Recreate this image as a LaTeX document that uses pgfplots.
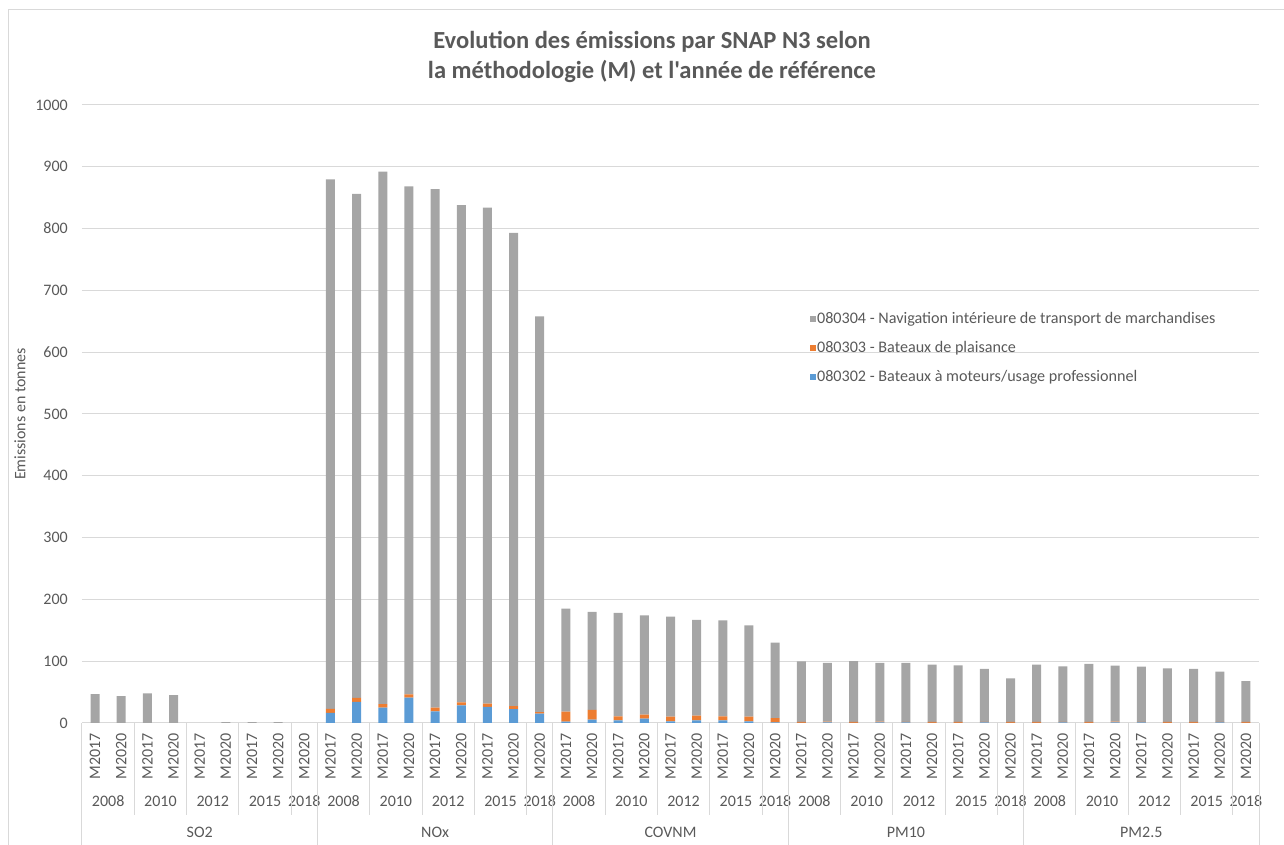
\documentclass[border=0pt]{standalone}
\usepackage{pgfplots}
\usepackage{pgfplotstable}
\pgfplotsset{compat=1.18}
\usepackage{fontspec}
\setmainfont{Carlito}
\newfontfamily\carlitoplain{Carlito}
\definecolor{cgray}{HTML}{A5A5A5}
\definecolor{corange}{HTML}{ED7D31}
\definecolor{cblue}{HTML}{5B9BD5}
\definecolor{ctext}{HTML}{595959}
\definecolor{cgrid}{HTML}{D9D9D9}

\pgfplotstableread{
x blue orange gray
0 0 0 46.7
1 0 0 43.5
2 0 0 47.8
3 0 0 45.1
4 0 0 0
5 0 0 1.5
6 0 0 1.5
7 0 0 1.5
8 0 0 0
9 16.5 6.5 856.5
10 34 6.5 815.5
11 25 5.5 861.5
12 41 5.5 822
13 19 6 839
14 28.5 5 804.5
15 26 5.5 802.5
16 22.5 5 765.5
17 15 2.5 640.5
18 2.2 16.4 166.4
19 5.5 15.8 158.7
20 4.4 6.5 167.1
21 7.1 6.6 160.3
22 2.7 7.7 161.6
23 4.4 7.6 155
24 4.4 6.5 155.1
25 2.7 7.7 147.6
26 1.1 6.6 122.3
27 0.3 1.5 98
28 1.2 1.0 95.1
29 0.3 1.5 98.2
30 1.2 1.0 95.1
31 1.2 0.5 95.6
32 0.3 1.5 92.7
33 0.3 1.5 91.6
34 1.2 0.5 85.7
35 0.3 1.5 70.3
36 0.3 1.5 92.7
37 1.2 0.5 90.1
38 0.3 1.5 93.8
39 1.2 1.0 90.7
40 1.2 0.5 89.6
41 0.3 1.5 86.7
42 0.3 1.5 85.6
43 1.2 0.5 81.3
44 0.3 1.5 66
}\data

\begin{document}
\begin{tikzpicture}
\path[use as bounding box] (0pt,0pt) rectangle (963pt,633.75pt);
% chart frame
\draw[cgrid, line width=0.75pt] (6pt,0pt) -- (6pt,626.25pt) -- (963pt,626.25pt);
% title
\node[align=center, text=ctext, font=\carlitoplain\bfseries\fontsize{18.4}{22.5}\selectfont] at (489pt,591pt)
  {Evolution des émissions par SNAP N3 selon\\la méthodologie (M) et l'année de référence};
% y label
\node[rotate=90, text=ctext, font=\fontsize{12}{14}\selectfont] at (15pt,323.25pt) {Emissions en tonnes};

\begin{axis}[
  at={(61.5pt,91.5pt)}, anchor=south west,
  scale only axis, width=882.75pt, height=463.5pt,
  xmin=-0.5, xmax=44.5, ymin=0, ymax=1000,
  ybar stacked, bar width=6.75pt,
  clip=false,
  axis line style={draw=none},
  major tick length=0pt,
  xtick pos=bottom, ytick pos=left,
  ymajorgrids, grid style={cgrid, line width=0.75pt},
  ytick={0,100,...,1000},
  /pgf/number format/1000 sep={},
  yticklabel style={anchor=east, inner xsep=10.5pt, inner ysep=0pt, text=ctext, font=\fontsize{12}{14}\selectfont},
  /pgf/number format/assume math mode=true,
  xtick={0,...,44},
  xticklabels={M2017,M2020,M2017,M2020,M2017,M2020,M2017,M2020,M2020,
               M2017,M2020,M2017,M2020,M2017,M2020,M2017,M2020,M2020,
               M2017,M2020,M2017,M2020,M2017,M2020,M2017,M2020,M2020,
               M2017,M2020,M2017,M2020,M2017,M2020,M2017,M2020,M2020,
               M2017,M2020,M2017,M2020,M2017,M2020,M2017,M2020,M2020},
  xticklabel style={rotate=90, anchor=east, inner xsep=7.5pt, inner ysep=0pt, text=ctext, font=\fontsize{12}{14}\selectfont},
  reverse legend,
  legend image code/.code={\fill[#1] (0pt,-2.3pt) rectangle (4.6pt,2.3pt);},
  legend style={draw=none, fill=none, at={(0.6148,0.672)}, anchor=north west,
    font=\fontsize{12.1}{14}\selectfont, text=ctext, row sep=10pt,
    nodes={inner xsep=0.8pt, inner ysep=1pt}},
  legend cell align=left,
]
\addplot[fill=cblue, draw=none] table[x=x, y=blue] {\data};
\addplot[fill=corange, draw=none] table[x=x, y=orange] {\data};
\addplot[fill=cgray, draw=none] table[x=x, y=gray] {\data};
\legend{080302 - Bateaux à moteurs/usage professionnel,
        080303 - Bateaux de plaisance,
        080304 - Navigation intérieure de transport de marchandises}

% separators
\pgfplotsinvokeforeach{1.5,3.5,5.5,7.5,10.5,12.5,14.5,16.5,19.5,21.5,23.5,25.5,28.5,30.5,32.5,34.5,37.5,39.5,41.5,43.5}{
  \draw[cgrid, line width=0.75pt] (axis cs:#1,0) -- ++(0pt,-69pt);
}
\pgfplotsinvokeforeach{-0.5,8.5,17.5,26.5,35.5,44.5}{
  \draw[cgrid, line width=0.75pt] (axis cs:#1,0) -- ++(0pt,-92pt);
}
% year labels
\pgfplotsinvokeforeach{0.5,9.5,18.5,27.5,36.5}{
  \node[text=ctext, font=\fontsize{12}{14}\selectfont] at (axis cs:#1,0) [yshift=-58.5pt] {2008};
}
\pgfplotsinvokeforeach{2.5,11.5,20.5,29.5,38.5}{
  \node[text=ctext, font=\fontsize{12}{14}\selectfont] at (axis cs:#1,0) [yshift=-58.5pt] {2010};
}
\pgfplotsinvokeforeach{4.5,13.5,22.5,31.5,40.5}{
  \node[text=ctext, font=\fontsize{12}{14}\selectfont] at (axis cs:#1,0) [yshift=-58.5pt] {2012};
}
\pgfplotsinvokeforeach{6.5,15.5,24.5,33.5,42.5}{
  \node[text=ctext, font=\fontsize{12}{14}\selectfont] at (axis cs:#1,0) [yshift=-58.5pt] {2015};
}
\pgfplotsinvokeforeach{8,17,26,35,44}{
  \node[text=ctext, font=\fontsize{12}{14}\selectfont] at (axis cs:#1,0) [yshift=-58.5pt] {2018};
}
% pollutant labels
\node[text=ctext, font=\fontsize{12}{14}\selectfont] at (axis cs:4,0) [yshift=-81.75pt] {SO2};
\node[text=ctext, font=\fontsize{12}{14}\selectfont] at (axis cs:13,0) [yshift=-81.75pt] {NOx};
\node[text=ctext, font=\fontsize{12}{14}\selectfont] at (axis cs:22,0) [yshift=-81.75pt] {COVNM};
\node[text=ctext, font=\fontsize{12}{14}\selectfont] at (axis cs:31,0) [yshift=-81.75pt] {PM10};
\node[text=ctext, font=\fontsize{12}{14}\selectfont] at (axis cs:40,0) [yshift=-81.75pt] {PM2.5};
\end{axis}
\end{tikzpicture}
\end{document}
